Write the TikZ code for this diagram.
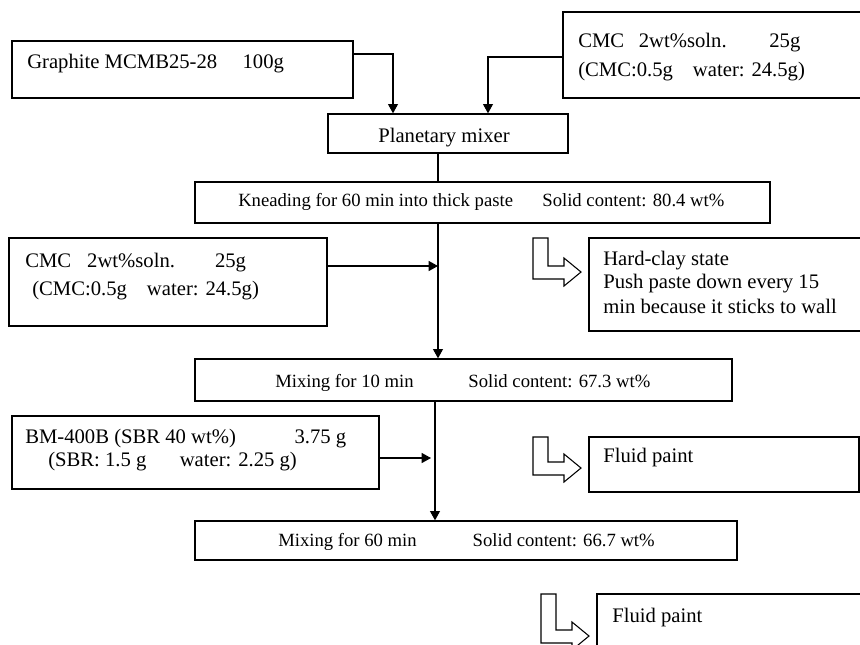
\documentclass[tikz,border=0pt]{standalone}
\usepackage{fontspec}
\setmainfont{Liberation Serif}
\usetikzlibrary{arrows.meta,calc}
\newcommand{\px}{*0.75pt}
% hollow bent arrow: left edge, top edge, lower edge of the shaft
\newcommand{\bendarrow}[3]{%
  \draw[hollow] (#1,#2) -- ({#1+15},#2) -- ({#1+15},{#3-13}) -- ({#1+31},{#3-13})
    -- ({#1+31},{#3-21}) -- ({#1+48},{#3-7}) -- ({#1+31},{#3+7}) -- ({#1+31},#3)
    -- (#1,#3) -- cycle;}

\begin{document}
\begin{tikzpicture}
    [
    x=0.75pt, y=-0.75pt,
    box/.style = {draw, line width=1pt, inner sep=0pt},
    txt/.style = {anchor=base west, inner sep=0pt, font=\fontsize{15.5}{18}\selectfont},
    stxt/.style = {anchor=base west, inner sep=0pt, font=\fontsize{14}{17}\selectfont},
    flow/.style = {line width=0.8pt, -{Triangle[length=7pt,width=7.5pt]}},
    link/.style = {line width=0.8pt},
    hollow/.style = {line width=0.8pt, line join=miter}
    ]
\clip (0,0) rectangle (860,644);

% boxes
\node[box, minimum width=341\px, minimum height=57\px] (graphite) at (182.5,69.5) {};
\node[box, minimum width=317\px, minimum height=86\px] (cmctop) at (721.5,55) {};
\node[box, minimum width=240\px, minimum height=39\px] (planetary) at (448,133.5) {};
\node[box, minimum width=575\px, minimum height=41\px] (kneading) at (482.5,202.5) {};
\node[box, minimum width=318\px, minimum height=88\px] (cmcmid) at (168,282) {};
\node[box, minimum width=291\px, minimum height=93\px] (hardclay) at (734.5,284.5) {};
\node[box, minimum width=537\px, minimum height=42\px] (mixten) at (463.5,380) {};
\node[box, minimum width=367\px, minimum height=73\px] (bm) at (195.5,452.5) {};
\node[box, minimum width=270\px, minimum height=55\px] (fluidA) at (724,464.5) {};
\node[box, minimum width=542\px, minimum height=39\px] (mixsixty) at (466,540.5) {};
\node[box, minimum width=283\px, minimum height=66\px] (fluidB) at (738.5,627) {};

% texts
\node[txt] (graphite-t) at (27,68) {Graphite MCMB25-28\hspace{19pt}100g};
\node[txt] (cmctop-t1) at (578,47) {CMC\hspace{11pt}2wt\%soln.\hspace{32pt}25g};
\node[txt] (cmctop-t2) at (578,76) {(CMC:0.5g\hspace{15pt}water: 24.5g)};
\node[txt] (planetary-t) at (378,142) {Planetary mixer};
\node[stxt] (kneading-t) at (238,206) {Kneading for 60 min into thick paste\hspace{22pt}Solid content: 80.4 wt\%};
\node[txt] (cmcmid-t1) at (25,267) {CMC\hspace{12pt}2wt\%soln.\hspace{30pt}25g};
\node[txt] (cmcmid-t2) at (32,295) {(CMC:0.5g\hspace{15pt}water: 24.5g)};
\node[txt] (hardclay-t1) at (603,265) {Hard-clay state};
\node[txt] (hardclay-t2) at (603,288) {Push paste down every 15};
\node[txt] (hardclay-t3) at (603,313) {min because it sticks to wall};
\node[stxt] (mixten-t) at (275,387) {Mixing for 10 min\hspace{41pt}Solid content: 67.3 wt\%};
\node[txt] (bm-t1) at (25,443) {BM-400B (SBR 40 wt\%)\hspace{44pt}3.75 g};
\node[txt] (bm-t2) at (48,466) {(SBR: 1.5 g\hspace{25pt}water: 2.25 g)};
\node[txt] (fluidA-t) at (603,462) {Fluid paint};
\node[stxt] (mixsixty-t) at (278,546) {Mixing for 60 min\hspace{42pt}Solid content: 66.7 wt\%};
\node[txt] (fluidB-t) at (612,622) {Fluid paint};

% feed lines
\draw[flow] ($(graphite.east)+(0,-15.5)$) -| ($(planetary.north)+(-55,0)$);
\draw[flow] ($(cmctop.west)+(0,2)$) -| ($(planetary.north)+(40,0)$);
\draw[link] ($(planetary.south)+(-10,0)$) coordinate (s1) -- (s1 |- kneading.north);
\draw[flow] (s1 |- kneading.south) -- (s1 |- mixten.north);
\draw[flow] ($(cmcmid.east)+(0,-16)$) coordinate (c1) -- (c1 -| s1);
\draw[flow] ($(mixten.south)+(-28.5,0)$) coordinate (s2) -- (s2 |- mixsixty.north);
\draw[flow, shorten >=3pt] ($(bm.east)+(0,5.5)$) coordinate (c2) -- (c2 -| s2);

% state arrows
\bendarrow{533}{238}{279}
\bendarrow{533}{437}{475}
\bendarrow{541}{594}{643}

\end{tikzpicture}
\end{document}
